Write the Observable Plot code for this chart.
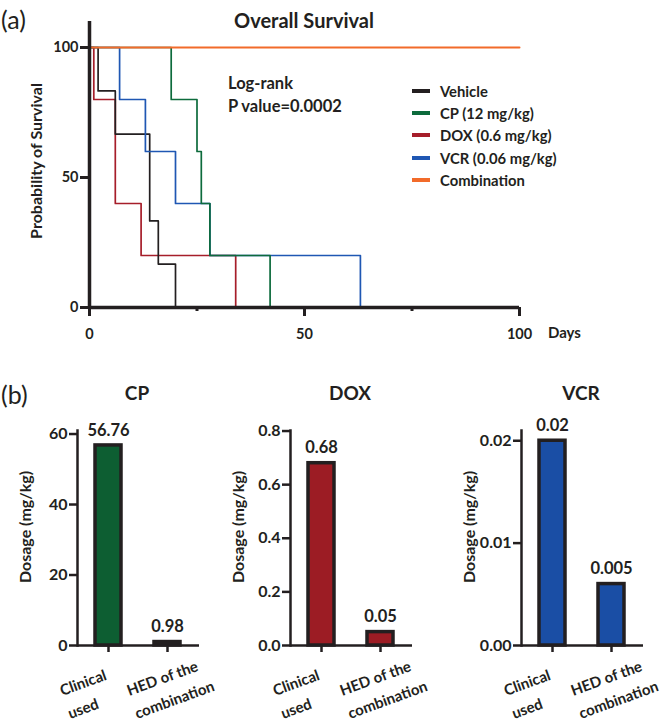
<!DOCTYPE html>
<html><head><meta charset="utf-8">
<script src="https://cdn.jsdelivr.net/npm/d3@7"></script>
<script src="https://cdn.jsdelivr.net/npm/@observablehq/plot@0.6"></script>
<style>
body{margin:0;background:#fff;}
#root{position:relative;width:669px;height:725px;font-family:Lato,"Open Sans",sans-serif;color:#231f20;overflow:hidden;background:#fff}
#root svg{position:absolute;overflow:visible}
.lbl{position:absolute;white-space:nowrap;line-height:1;}
</style></head><body><div id="root"></div>
<script>
// ---- Panel (a): survival data ----
const groups = ["Vehicle","CP (12 mg/kg)","DOX (0.6 mg/kg)","VCR (0.06 mg/kg)","Combination"];
const groupColors = ["#231f20","#0d6b3c","#a61e2a","#1f57b3","#f26b2a"];
const vehicleDays = [0,2,6,14,16,20];
const vehicleSurv = [100,83.3,66.7,33.3,16.7,0];
const cpDays = [0,19,25,26,28,42];
const cpSurv = [100,80,60,40,20,0];
const doxDays = [0,1,6,12,34];
const doxSurv = [100,80,40,20,0];
const vcrDays = [0,7,13,20,28,63];
const vcrSurv = [100,80,60,40,20,0];
const comboDays = [0,100];
const comboSurv = [100,100];
const survTicks = [0,50,100];
const dayTicks = [0,50,100];
const dayMinorTicks = [25,75];

// ---- Panel (b): dosage data ----
const doseCats = ["Clinical used","HED of the combination"];
const doseTickLines = [["Clinical","used"],["HED of the","combination"]];
const cpDose = [56.76,0.98];
const cpDoseLabels = ["56.76","0.98"];
const cpTicks = [0,20,40,60];
const doxDose = [0.68,0.05];
const doxDoseLabels = ["0.68","0.05"];
const doxTicks = [0,0.2,0.4,0.6,0.8];
const vcrDose = [0.02,0.006];
const vcrDoseLabels = ["0.02","0.005"];
const vcrTicks = [0,0.01,0.02];

const root = document.getElementById("root");
const ink = "#231f20";
const FONT = "Lato, 'Open Sans', sans-serif";

function label(text, x, y, opts = {}) {
  const d = document.createElement("div");
  d.className = "lbl";
  d.textContent = text;
  d.style.left = x + "px";
  d.style.top = y + "px";
  d.style.fontSize = (opts.size || 14) + "px";
  d.style.fontWeight = opts.weight || "bold";
  const tx = opts.anchor === "start" ? "0" : opts.anchor === "end" ? "-100%" : "-50%";
  d.style.transform = `translate(${tx},-50%)`;
  if (opts.rotate) { d.style.transform = `translate(-50%,-50%) rotate(${opts.rotate}deg)`; }
  root.appendChild(d);
  return d;
}

// ---- Survival plot ----
const order = [[2,doxDays,doxSurv],[0,vehicleDays,vehicleSurv],[3,vcrDays,vcrSurv],[1,cpDays,cpSurv],[4,comboDays,comboSurv]];
const rows = order.flatMap(([g,ds,ss]) => ds.map((d,i) => ({group: groups[g], day: d, surv: ss[i]})));

const topPlot = Plot.plot({
  width: 669, height: 340,
  marginLeft: 89, marginRight: 150, marginTop: 47, marginBottom: 33,
  style: {fontFamily: FONT, fontSize: "14.5px", fontWeight: "bold", color: ink, background: "transparent", overflow: "visible"},
  x: {domain: [0,100]},
  y: {domain: [0,100]},
  color: {domain: groups, range: groupColors},
  marks: [
    Plot.line(rows, {x: "day", y: "surv", z: "group", stroke: "group", curve: "step-after",
      strokeWidth: d => d.group === "Combination" ? 2 : 1.7}),
    Plot.ruleY([0], {stroke: ink, strokeWidth: 3.5}),
    Plot.ruleX([0], {y1: 0, y2: 110, stroke: ink, strokeWidth: 3.5}),
    Plot.axisX({ticks: dayTicks, tickSize: 9, tickPadding: 12, strokeWidth: 3, stroke: ink, label: null, tickFormat: d => String(d)}),
    Plot.axisX({ticks: dayMinorTicks, tickSize: 4, strokeWidth: 3, stroke: ink, label: null, tickFormat: () => ""}),
    Plot.axisY({ticks: survTicks, tickSize: 9, tickPadding: 2, strokeWidth: 3, stroke: ink, label: null})
  ]
});
topPlot.style.left = "0px"; topPlot.style.top = "0px";
root.appendChild(topPlot);

label("(a)", 1, 19, {size: 25, weight: "normal", anchor: "start"});
label("Overall Survival", 304, 20, {size: 20});
label("Log-rank", 228, 83, {size: 16.5, anchor: "start"});
label("P value=0.0002", 228, 106, {size: 16.5, anchor: "start"});
label("Probability of Survival", 36, 161, {size: 16, rotate: -90});
label("Days", 548, 332, {size: 15, anchor: "start"});

groups.forEach((g, i) => {
  const y = 91 + i * 22.2;
  const sw = document.createElement("div");
  sw.style.cssText = `position:absolute;left:412px;top:${y - 2}px;width:18px;height:4px;background:${groupColors[i]}`;
  root.appendChild(sw);
  label(g, 440, y, {size: 14.8, anchor: "start"});
});

// ---- Dosage panels ----
const tickLabelOffsets = [-52, -44.5]; // rotated label anchor offsets from each tick
const rad = 20 * Math.PI / 180;
function panel(title, vals, labels, color, domain, ticks, fmt, left) {
  const data = doseCats.map((c, i) => ({cat: c, v: vals[i], label: labels[i]}));
  const top = 400, marginTop = 30, marginBottom = 80, height = 325;
  const p = Plot.plot({
    width: 220, height,
    marginLeft: 77, marginRight: 21, marginTop, marginBottom,
    style: {fontFamily: FONT, fontSize: "16px", fontWeight: "bold", color: ink, background: "transparent", overflow: "visible"},
    x: {domain: doseCats, padding: 0.05},
    y: {domain},
    marks: [
      Plot.barY(data, {x: "cat", y: "v", fill: color, stroke: ink, strokeWidth: 3.5, insetLeft: 15, insetRight: 15}),
      Plot.ruleY([0], {stroke: ink, strokeWidth: 2.5}),
      Plot.frame({anchor: "left", stroke: ink, strokeWidth: 2.5}),
      Plot.axisY({ticks, tickFormat: fmt, tickSize: 8, tickPadding: 2, strokeWidth: 2.5, stroke: ink, label: null}),
      Plot.axisX({tickSize: 7, strokeWidth: 2.5, stroke: ink, tickFormat: () => "", label: null}),
      Plot.text(data, {x: "cat", y: "v", text: "label", dy: -15, lineAnchor: "middle", fontSize: 16.5})
    ]
  });
  p.style.left = left + "px"; p.style.top = top + "px";
  root.appendChild(p);
  // rotated category labels, one line each, placed with the plot's own x scale
  const xs = p.scale("x");
  const baseY = top + height - marginBottom;
  doseCats.forEach((cat, i) => {
    const cx = left + xs.apply(cat) + xs.bandwidth / 2;
    doseTickLines[i].forEach((line, j) => {
      const el = document.createElement("div");
      el.textContent = line;
      const ax = cx + tickLabelOffsets[i] + j * 24 * Math.sin(rad);
      const ay = baseY + 34 + j * 24 * Math.cos(rad);
      el.style.cssText = `position:absolute;left:${ax}px;top:${ay}px;white-space:nowrap;line-height:24px;font-size:15px;font-weight:bold;transform-origin:0px 0px;transform:rotate(-20deg);`;
      root.appendChild(el);
    });
  });
  label(title, left + 77 + 60, 392, {size: 19});
  label("Dosage (mg/kg)", left + 25, 527, {size: 16, rotate: -90});
}

panel("CP", cpDose, cpDoseLabels, "#0d5e32", [0, 61], cpTicks, d => String(d), 0);
panel("DOX", doxDose, doxDoseLabels, "#9c1c24", [0, 0.802], doxTicks, d3.format(".1f"), 213);
panel("VCR", vcrDose, vcrDoseLabels, "#1a4ea5", [0, 0.021], vcrTicks, d3.format(".2f"), 444);

label("(b)", 1, 394, {size: 25, weight: "normal", anchor: "start"});
</script></body></html>
